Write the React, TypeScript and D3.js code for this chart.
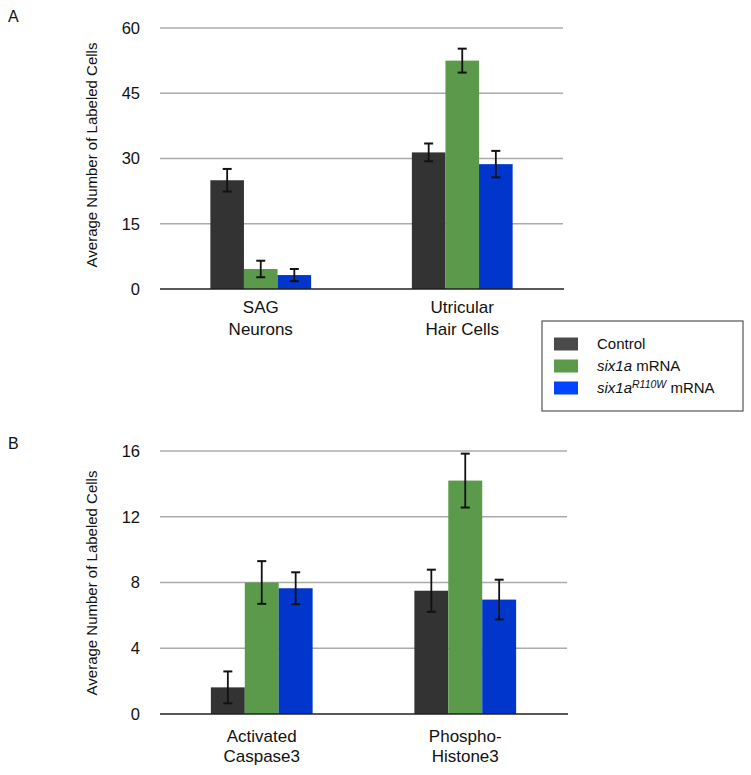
import React from "react";
import * as d3 from "d3";

const seriesNames = ["Control", "six1a mRNA", "six1aR110W mRNA"];
const seriesColors = ["#333333", "#5b9a4a", "#0036cc"];
const legendColors = ["#4a4a4a", "#5b9a4a", "#0044ff"];

const catsA = [["SAG", "Neurons"], ["Utricular", "Hair Cells"]];
const meansA = [
  [25.0, 4.6, 3.2],
  [31.4, 52.5, 28.7],
];
const errA = [
  [2.6, 1.9, 1.4],
  [2.05, 2.75, 3.05],
];
const ticksA = [0, 15, 30, 45, 60];

const catsB = [["Activated", "Caspase3"], ["Phospho-", "Histone3"]];
const meansB = [
  [1.62, 8.0, 7.65],
  [7.5, 14.2, 6.96],
];
const errB = [
  [0.97, 1.3, 0.97],
  [1.28, 1.64, 1.21],
];
const ticksB = [0, 4, 8, 12, 16];

const FONT = "'Liberation Sans', Arial, Helvetica, sans-serif";

function Panel({ letter, letterY, cats, means, errs, ticks, top, bottom, right, maxV, labY1, labY2, titleMid }: any) {
  const left = 160;
  const y = d3.scaleLinear().domain([0, maxV]).range([bottom, top]);
  const x0 = d3.scaleBand<number>().domain(cats.map((_: any, i: number) => i)).range([left, right]).paddingInner(0).paddingOuter(0);
  const groupW = x0.bandwidth() * 0.5;
  const x1 = d3.scaleBand<number>().domain([0, 1, 2]).range([0, groupW]);
  return (
    <g>
      <text x={8} y={letterY} fontSize={16} fontFamily={FONT} fill="#111">{letter}</text>
      {ticks.map((t: number) => (
        <g key={t}>
          {t !== 0 && <line x1={left} x2={right} y1={y(t)} y2={y(t)} stroke="#ababab" strokeWidth={1.5} />}
          <text x={140} y={y(t)} dy="0.36em" textAnchor="end" fontSize={16.5} fontFamily={FONT} fill="#111">{t}</text>
        </g>
      ))}
      <text transform={`translate(97,${titleMid}) rotate(-90)`} textAnchor="middle" fontSize={15} fontFamily={FONT} fill="#111">Average Number of Labeled Cells</text>
      {means.map((row: number[], ci: number) => {
        const gx = (x0(ci) as number) + (x0.bandwidth() - groupW) / 2;
        return (
          <g key={ci}>
            {row.map((v: number, si: number) => {
              const bx = gx + (x1(si) as number);
              const bw = x1.bandwidth();
              const cx = bx + bw / 2;
              const e = errs[ci][si];
              return (
                <g key={si}>
                  <rect x={bx} y={y(v)} width={bw} height={y(0) - y(v)} fill={seriesColors[si]} />
                  <line x1={cx} x2={cx} y1={y(v + e)} y2={y(v - e)} stroke="#111" strokeWidth={1.8} />
                  <line x1={cx - 4.5} x2={cx + 4.5} y1={y(v + e)} y2={y(v + e)} stroke="#111" strokeWidth={2} />
                  <line x1={cx - 4.5} x2={cx + 4.5} y1={y(v - e)} y2={y(v - e)} stroke="#111" strokeWidth={2} />
                </g>
              );
            })}
            <text x={(x0(ci) as number) + x0.bandwidth() / 2} y={bottom + labY1} textAnchor="middle" fontSize={17} fontFamily={FONT} fill="#111">{cats[ci][0]}</text>
            <text x={(x0(ci) as number) + x0.bandwidth() / 2} y={bottom + labY2} textAnchor="middle" fontSize={17} fontFamily={FONT} fill="#111">{cats[ci][1]}</text>
          </g>
        );
      })}
      <line x1={left} x2={right + 1} y1={y(0)} y2={y(0)} stroke="#222" strokeWidth={1.5} />
    </g>
  );
}

export default function App() {
  const legendRowY = [344, 366, 388];
  return (
    <svg width={751} height={775} style={{ position: "absolute", left: 0, top: 0, background: "#fff" }}>
      <rect width={751} height={775} fill="#fff" />
      <Panel letter="A" letterY={22} cats={catsA} means={meansA} errs={errA} ticks={ticksA} top={28} bottom={289} right={563} maxV={60} labY1={24} labY2={46} titleMid={155} />
      <Panel letter="B" letterY={449} cats={catsB} means={meansB} errs={errB} ticks={ticksB} top={451} bottom={714} right={567} maxV={16} labY1={28} labY2={48} titleMid={583} />
      <g>
        <rect x={542} y={321} width={201} height={90} fill="#fff" stroke="#555" strokeWidth={1.2} />
        {seriesNames.map((n, i) => (
          <g key={n}>
            <rect x={554} y={legendRowY[i] - 6.5} width={24} height={13} fill={legendColors[i]} />
            <text x={597} y={legendRowY[i]} dy="0.36em" fontSize={15} fontFamily={FONT} fill="#111">
              {i === 0 && "Control"}
              {i === 1 && (<><tspan fontStyle="italic">six1a</tspan> mRNA</>)}
              {i === 2 && (<><tspan fontStyle="italic">six1a</tspan><tspan fontStyle="italic" fontSize={10.5} dy="-5">R110W</tspan><tspan dy="5"> mRNA</tspan></>)}
            </text>
          </g>
        ))}
      </g>
    </svg>
  );
}
